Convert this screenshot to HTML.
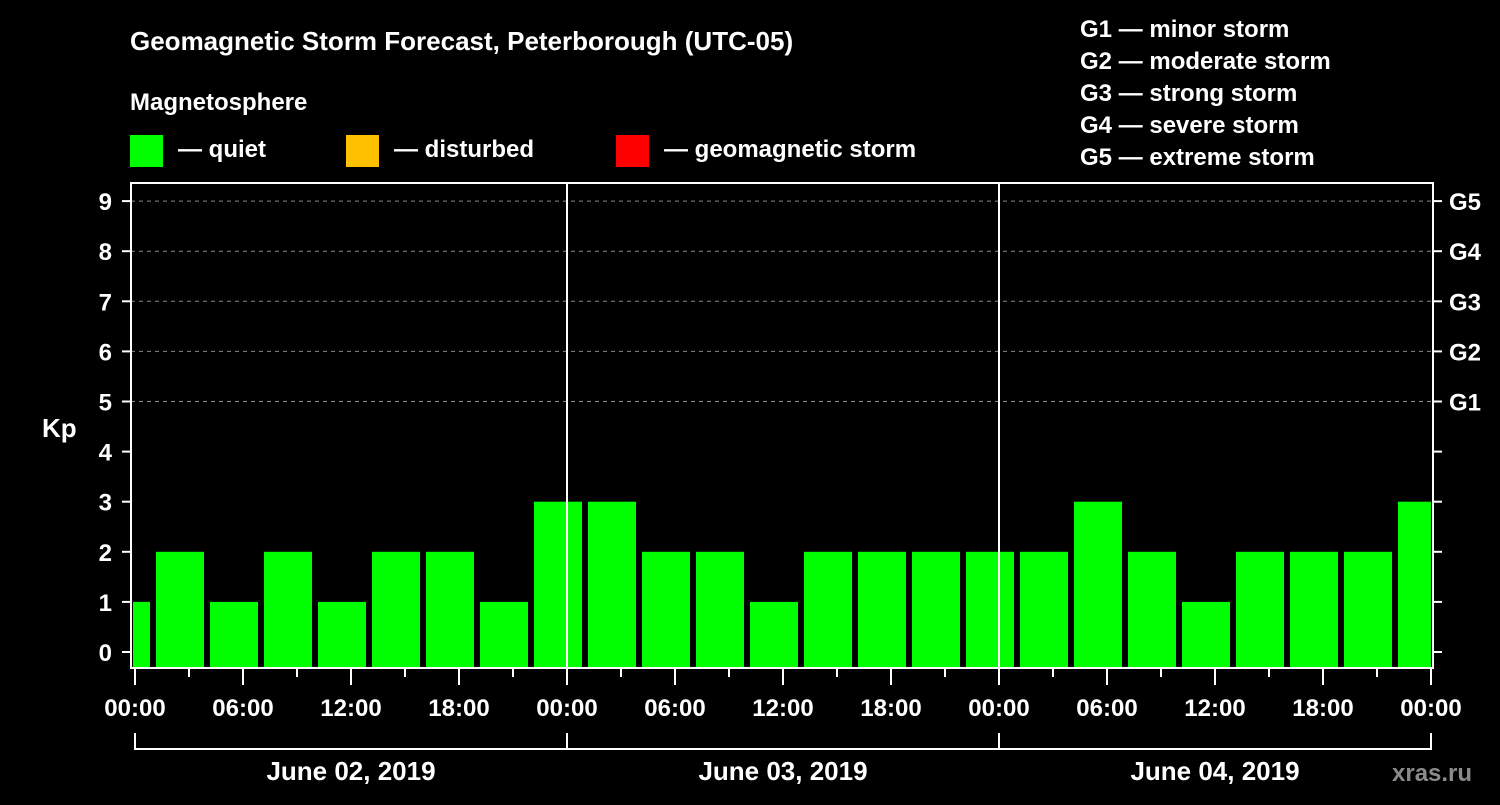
<!DOCTYPE html>
<html><head><meta charset="utf-8"><style>
body{margin:0;background:#000;width:1500px;height:800px;overflow:hidden}
svg text{font-family:"Liberation Sans",Arial,sans-serif;font-weight:bold;fill:#fff}
</style></head><body>
<svg id="chart" width="1500" height="800" xmlns="http://www.w3.org/2000/svg">
<rect width="1500" height="800" fill="#000"/>
<text x="130" y="50" font-size="26">Geomagnetic Storm Forecast, Peterborough (UTC-05)</text>
<text x="130" y="110" font-size="24">Magnetosphere</text>
<g><rect x="130" y="135" width="33" height="32" fill="#00ff00"/><text x="178" y="157" font-size="24">— quiet</text></g>
<g><rect x="346" y="135" width="33" height="32" fill="#ffc000"/><text x="394" y="157" font-size="24">— disturbed</text></g>
<g><rect x="616" y="135" width="33" height="32" fill="#ff0000"/><text x="664" y="157" font-size="24">— geomagnetic storm</text></g>
<g font-size="24">
<text x="1080" y="37">G1 — minor storm</text>
<text x="1080" y="69">G2 — moderate storm</text>
<text x="1080" y="101">G3 — strong storm</text>
<text x="1080" y="133">G4 — severe storm</text>
<text x="1080" y="165">G5 — extreme storm</text>
</g>
<text x="42" y="437" font-size="26">Kp</text>
<g id="grid"></g><g id="bars"></g><g id="axes"></g>
<text x="1392" y="781" font-size="24" fill="#888" style="fill:#8a8a8a">xras.ru</text>
</svg>
<script>
const kpValues=[1,2,1,2,1,2,2,1,3,3,2,2,1,2,2,2,2,2,3,2,1,2,2,2,3];
const yTicks=[0,1,2,3,4,5,6,7,8,9];
const gLabels=["G1","G2","G3","G4","G5"];
const xLabels=["00:00","06:00","12:00","18:00","00:00","06:00","12:00","18:00","00:00","06:00","12:00","18:00","00:00"];
const dayLabels=["June 02, 2019","June 03, 2019","June 04, 2019"];
const NS="http://www.w3.org/2000/svg";
const X0=135,PXH=18,Y0=652,PKP=50.1,L=131,R=1433,T=183,B=668;
const xs=h=>X0+h*PXH, ys=v=>Y0-v*PKP;
function mk(t,a,p){const e=document.createElementNS(NS,t);for(const k in a)e.setAttribute(k,a[k]);p.appendChild(e);return e;}
const grid=document.getElementById('grid'),bars=document.getElementById('bars'),axes=document.getElementById('axes');
[5,6,7,8,9].forEach(v=>{const l=mk('line',{x1:L,x2:R,y1:ys(v),y2:ys(v),stroke:'#888','stroke-dasharray':'4,4'},grid);

});
const cp=mk('clipPath',{id:'clip'},bars);mk('rect',{x:L+2,y:T,width:R-L-4,height:B-T},cp);
const bg=mk('g',{'clip-path':'url(#clip)'},bars);
kpValues.forEach((v,i)=>{const c=xs(3*i-0.5);const col=v>=5?'#ff0000':v>=4?'#ffc000':'#00ff00';
const r=mk('rect',{x:c-24,y:ys(v),width:48,height:B-ys(v),fill:col},bg);

});
[1,2].forEach(d=>{const l=mk('line',{x1:xs(24*d),x2:xs(24*d),y1:T,y2:B,stroke:'#fff','stroke-width':2},axes);

});
const fr=mk('rect',{x:L,y:T,width:R-L,height:B-T,fill:'none',stroke:'#fff','stroke-width':2},axes);


yTicks.forEach(v=>{mk('line',{x1:122,x2:L,y1:ys(v),y2:ys(v),stroke:'#fff','stroke-width':2},axes);
mk('line',{x1:R,x2:R+9,y1:ys(v),y2:ys(v),stroke:'#fff','stroke-width':2},axes);
const t=mk('text',{x:112,y:ys(v)+9,'font-size':24,'text-anchor':'end'},axes);t.textContent=v;

});
gLabels.forEach((g,i)=>{const t=mk('text',{x:1449,y:ys(5+i)+9,'font-size':24},axes);t.textContent=g;

});
for(let h=0;h<=72;h+=3){const maj=h%6==0;mk('line',{x1:xs(h),x2:xs(h),y1:B,y2:B+(maj?17:9),stroke:'#fff','stroke-width':2},axes);}
xLabels.forEach((s,i)=>{const t=mk('text',{x:xs(6*i),y:716,'font-size':24,'text-anchor':'middle'},axes);t.textContent=s;

});
mk('path',{d:`M${xs(0)} 733V749H${xs(72)}V733`,stroke:'#fff','stroke-width':2,fill:'none'},axes);
[1,2].forEach(d=>mk('line',{x1:xs(24*d),x2:xs(24*d),y1:733,y2:749,stroke:'#fff','stroke-width':2},axes));
dayLabels.forEach((s,i)=>{const t=mk('text',{x:xs(24*i+12),y:780,'font-size':26,'text-anchor':'middle'},axes);t.textContent=s;

});
</script>
</body></html>
